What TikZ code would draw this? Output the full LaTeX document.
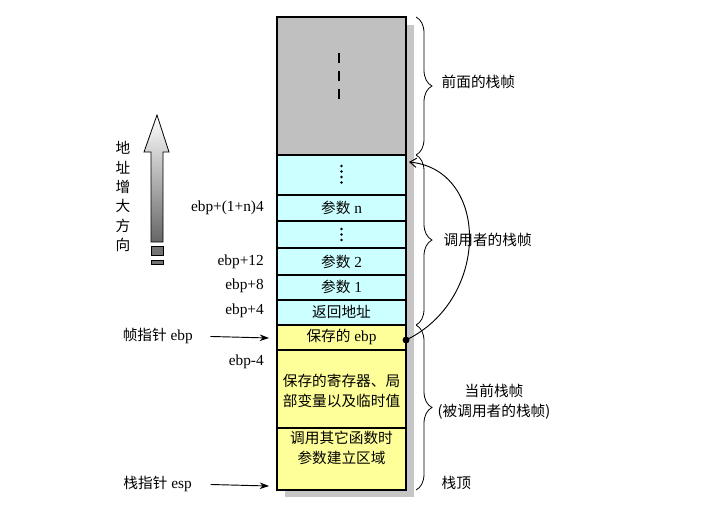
\documentclass[tikz,border=0pt]{standalone}
\usepackage{fontspec}
\setmainfont{Liberation Serif}
\newfontfamily\cjk{Noto Sans CJK SC}
\usetikzlibrary{arrows.meta,decorations.pathreplacing}
\definecolor{framegray}{HTML}{C0C0C0}
\definecolor{callercyan}{HTML}{CCFFFF}
\definecolor{calleeyellow}{HTML}{FFFF99}
\definecolor{shadowgray}{HTML}{C6C6C6}

\begin{document}
\begin{tikzpicture}[x=0.75pt,y=-0.75pt,font=\fontsize{11.5}{15}\selectfont,
  cell/.style={draw=black,line width=1.1pt},
  cn/.style={font=\cjk\fontsize{11}{15}\selectfont},
  brc/.style={decorate,decoration={brace,amplitude=12pt},line width=0.6pt},
  ptr/.style={-{Stealth[length=7pt,width=5pt]},line width=0.7pt}]
  \useasboundingbox[fill=white] (0,0) rectangle (720,514);
  \fill[shadowgray] (406,25) rectangle (414,497);
  \fill[shadowgray] (285,490) rectangle (414,497);

  \foreach \ya/\yb/\ty/\c/\n/\t in {17/155/86/framegray/prev/{},
    155/195/175/callercyan/dotsa/{}, 195/221/208/callercyan/argn/{{\cjk\fontsize{11}{15}\selectfont 参数} n},
    221/248/234/callercyan/dotsb/{}, 248/275/262/callercyan/argtwo/{{\cjk\fontsize{11}{15}\selectfont 参数} 2},
    275/300/287/callercyan/argone/{{\cjk\fontsize{11}{15}\selectfont 参数} 1},
    300/325/312/callercyan/ret/{{\cjk\fontsize{11}{15}\selectfont 返回地址}},
    325/350/337/calleeyellow/savedebp/{{\cjk\fontsize{11}{15}\selectfont 保存的} ebp},
    350/428/391/calleeyellow/locals/{{\cjk\fontsize{11}{15}\selectfont 保存的寄存器、局}\\{\cjk\fontsize{11}{15}\selectfont 部变量以及临时值}},
    428/490/448/calleeyellow/outargs/{{\cjk\fontsize{11}{15}\selectfont 调用其它函数时}\\{\cjk\fontsize{11}{15}\selectfont 参数建立区域}}}{
    \filldraw[cell,fill=\c] (277,\ya) rectangle (406,\yb);
    \node[align=center,inner sep=0pt] (\n) at (341.5,\ty) {\t};}
  \draw[line width=2pt] (277,17) rectangle (406,490);
  \draw[line width=2pt] (277,155) -- (406,155);

  \foreach \y in {53,71,89}{\draw[line width=2.2pt] (339,\y) -- (339,\y+10);}
  \foreach \y in {166,171.5,177,182.5}{\fill (341.5,\y) circle (1.1pt);}
  \foreach \y in {229,234.5,240}{\fill (341.5,\y) circle (1.1pt);}

  \shade[top color=white,bottom color=black!60,draw=black,line width=0.6pt]
    (157,115) -- (169,152) -- (163,152) -- (163,242) -- (151,242) -- (151,152) -- (144,152) -- cycle;
  \filldraw[fill=black!55,line width=0.6pt] (151,246) rectangle (163,255);
  \filldraw[fill=black!55,line width=0.6pt] (151,260) rectangle (163,264);
  \node[align=center,font=\cjk\fontsize{11}{14.5}\selectfont] (addrdir) at (123,196.5) {地\\址\\增\\大\\方\\向};

  \foreach \y/\n/\t in {208/offn/{ebp+(1+n)4}, 262/offtwelve/{ebp+12}, 286/offeight/{ebp+8},
    311/offfour/{ebp+4}, 362/offminus/{ebp-4}}{
    \node[anchor=east,inner sep=0pt] (\n) at (264,\y) {\t};}

  \node[anchor=east,inner sep=0pt] (fp) at (193,336) {{\cjk\fontsize{11}{15}\selectfont 帧指针} ebp};
  \node[anchor=east,inner sep=0pt] (sp) at (192,484) {{\cjk\fontsize{11}{15}\selectfont 栈指针} esp};
  \coordinate (fptip) at (269,338);
  \coordinate (sptip) at (269,486);
  \draw[ptr,shorten <=13pt] (fp.east) -- (fptip);
  \draw[ptr,shorten <=14pt] (sp.east) -- (sptip);

  \draw[brc] (416,17) -- (416,155);
  \draw[brc] (416,155) -- (416,325);
  \draw[brc] (416,325) -- (416,490);
  \node[cn,anchor=west] (prevlbl) at (437,82) {前面的栈帧};
  \node[cn,anchor=west] (callerlbl) at (439,240) {调用者的栈帧};
  \node[cn,align=center] (calleelbl) at (494,402) {当前栈帧\\(被调用者的栈帧)};
  \node[cn,anchor=west] (toplbl) at (437,483) {栈顶};

  \coordinate (callertop) at (409,162);
  \fill (406,340) coordinate (ebpdot) circle (2.6pt);
  \draw[-{Straight Barb[length=5pt,width=7pt]},line width=0.7pt]
    (ebpdot) .. controls (490,300) and (490,170) .. (callertop);
\end{tikzpicture}
\end{document}
